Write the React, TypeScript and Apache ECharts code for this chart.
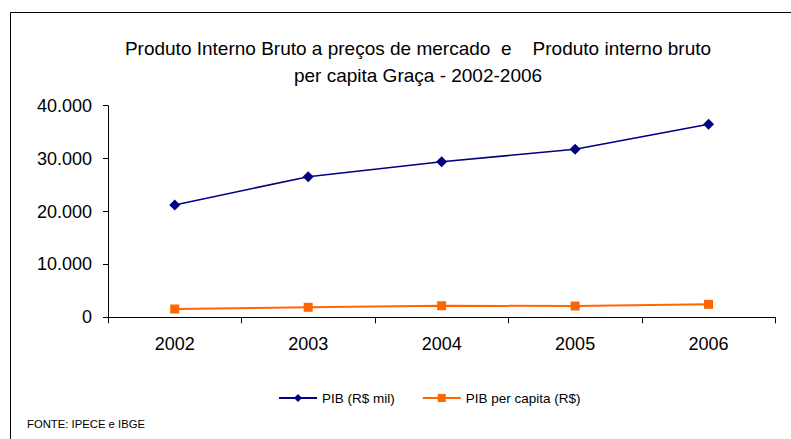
import React, { useEffect, useRef } from "react";
import * as echarts from "echarts";

const years = ["2002", "2003", "2004", "2005", "2006"];
const pibMil = [21230, 26580, 29410, 31760, 36480];
const pibPerCapita = [1570, 1890, 2190, 2130, 2450];
const titleLines = [
  "Produto Interno Bruto a preços de mercado  e    Produto interno bruto",
  "per capita Graça - 2002-2006",
];
const seriesNames = ["PIB (R$ mil)", "PIB per capita (R$)"];
const sourceText = "FONTE: IPECE e IBGE";

const fmt = (v: number) => String(v).replace(/\B(?=(\d{3})+(?!\d))/g, ".");

export default function App() {
  const ref = useRef<HTMLDivElement>(null);
  useEffect(() => {
    if (!ref.current) return;
    const chart = echarts.init(ref.current, null, { renderer: "svg" });
    const font = "Liberation Sans";
    chart.setOption({
      animation: false,
      backgroundColor: "#fff",
      textStyle: { fontFamily: font },
      title: {
        text: titleLines.join("\n"),
        left: 413,
        top: 30,
        textAlign: "center",
        textStyle: { fontSize: 19, fontWeight: "normal", color: "#000", lineHeight: 27, fontFamily: font },
      },
      grid: { left: 108, right: 15.7, top: 105.7, bottom: 121.7, containLabel: false },
      xAxis: {
        type: "category",
        data: years,
        boundaryGap: true,
        axisLine: { lineStyle: { color: "#000", width: 1 } },
        axisTick: { show: true, length: 6, lineStyle: { color: "#000" } },
        axisLabel: { color: "#000", fontSize: 18, margin: 18, fontFamily: font },
        splitLine: { show: false },
      },
      yAxis: {
        type: "value",
        min: 0,
        max: 40000,
        interval: 10000,
        axisLine: { show: true, lineStyle: { color: "#000", width: 1 } },
        axisTick: { show: true, length: 5, lineStyle: { color: "#000" } },
        axisLabel: { color: "#000", fontSize: 18, margin: 16, formatter: (v: number) => fmt(v), fontFamily: font },
        splitLine: { show: false },
      },
      legend: {
        left: 273,
        top: 386,
        itemWidth: 38,
        itemHeight: 10,
        itemGap: 27,
        textStyle: { fontSize: 13.5, color: "#000", fontFamily: font },
        data: seriesNames,
      },
      series: [
        {
          name: seriesNames[0],
          type: "line",
          data: pibMil,
          symbol: "diamond",
          symbolSize: 11,
          lineStyle: { color: "#000080", width: 1.6 },
          itemStyle: { color: "#000080" },
        },
        {
          name: seriesNames[1],
          type: "line",
          data: pibPerCapita,
          symbol: "rect",
          symbolSize: 9,
          lineStyle: { color: "#FF6600", width: 2 },
          itemStyle: { color: "#FF6600" },
        },
      ],
      graphic: [
        {
          type: "rect",
          shape: { x: 10.5, y: 12.5, width: 900, height: 600 },
          style: { fill: "none", stroke: "#000", lineWidth: 1 },
          silent: true,
        },
        {
          type: "text",
          left: 27,
          top: 418,
          style: {
            text: sourceText,
            fill: "#000",
            fontSize: 11.3,
            fontFamily: font,
          },
        },
      ],
    });
    return () => chart.dispose();
  }, []);
  return <div ref={ref} style={{ position: "fixed", left: 0, top: 0, width: 791, height: 439 }} />;
}
